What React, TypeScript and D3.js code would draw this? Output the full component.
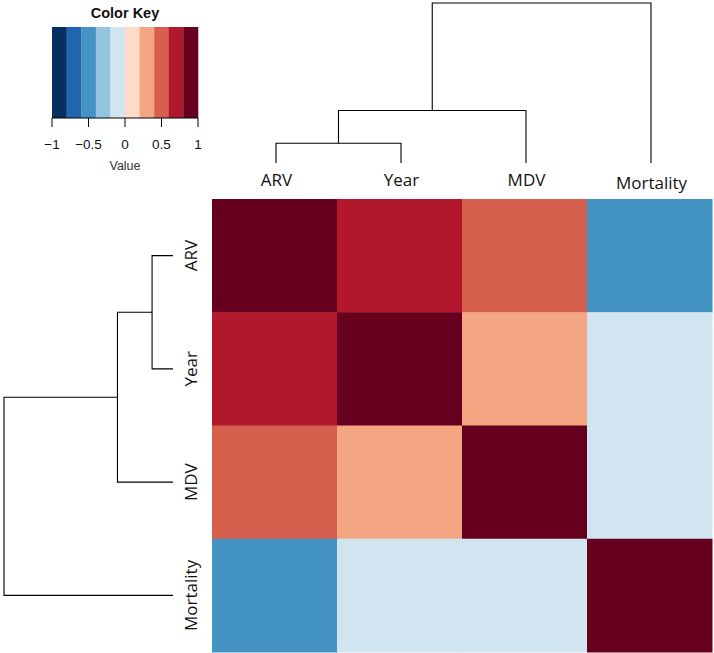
import React from "react";
import * as d3 from "d3";

const variables = ["ARV", "Year", "MDV", "Mortality"];
// correlation matrix (rows and columns in variable order)
const rowARV = [1.0, 0.72, 0.52, -0.48];
const rowYear = [0.72, 1.0, 0.33, -0.12];
const rowMDV = [0.52, 0.33, 1.0, -0.08];
const rowMortality = [-0.48, -0.12, -0.08, 1.0];
const matrix = [rowARV, rowYear, rowMDV, rowMortality];

// hierarchical clustering merges: [left, right, height]; leaves are 0..3, merged nodes are 4..
const merges: [number, number, number][] = [
  [0, 1, 0.52],
  [4, 2, 1.38],
  [5, 3, 4.2],
];

const keyTicks = [-1, -0.5, 0, 0.5, 1];
const keyColors = [
  "#053061", "#2166ac", "#4393c3", "#92c5de", "#d1e5f0",
  "#fddbc7", "#f4a582", "#d6604d", "#b2182b", "#67001f",
];

const W = 714;
const H = 653;
const hm = { x0: 212, x1: 712, y0: 199, y1: 652 };

function dendroSegments(
  leafPos: (i: number) => number,
  hScale: d3.ScaleLinear<number, number>
) {
  const pos: number[] = variables.map((_, i) => leafPos(i));
  const ht: number[] = variables.map(() => 0);
  const segs: { p: number; h: number; p2: number; h2: number; hm: number }[] = [];
  merges.forEach(([a, b, h]) => {
    segs.push({ p: pos[a], h: ht[a], p2: pos[b], h2: ht[b], hm: h });
    pos.push((pos[a] + pos[b]) / 2);
    ht.push(h);
  });
  return segs.map((s) => ({
    p1: s.p,
    a1: hScale(s.h),
    p2: s.p2,
    a2: hScale(s.h2),
    am: hScale(s.hm),
  }));
}

export default function App() {
  const x = d3.scaleBand<string>().domain(variables).range([hm.x0, hm.x1]);
  const y = d3.scaleBand<string>().domain(variables).range([hm.y0, hm.y1]);
  const color = d3
    .scaleQuantize<string>()
    .domain([-1, 1])
    .range(keyColors);

  const maxH = d3.max(merges, (m) => m[2]) as number;
  const topH = d3.scaleLinear().domain([0, maxH]).range([163, 3]);
  const leftH = d3.scaleLinear().domain([0, maxH]).range([173, 4]);

  const topSegs = dendroSegments(
    (i) => (x(variables[i]) as number) + x.bandwidth() / 2 + 1.5,
    topH
  );
  const leftSegs = dendroSegments(
    (i) => (y(variables[i]) as number) + y.bandwidth() / 2,
    leftH
  );

  const kx = d3.scaleLinear().domain([-1, 1]).range([52, 198]);
  const keyTop = 27;
  const keyBottom = 118;
  const binW = (kx(1) - kx(-1)) / keyColors.length;

  const font = "'Open Sans', 'Noto Sans', sans-serif";
  const keyFont = "'Liberation Sans', Arial, sans-serif";

  return (
    <svg
      width={W}
      height={H}
      style={{ position: "absolute", left: 0, top: 0, background: "#fff" }}
    >
      {/* heatmap cells */}
      {matrix.map((row, ri) =>
        row.map((v, ci) => (
          <rect
            key={`${ri}-${ci}`}
            x={x(variables[ci])}
            y={y(variables[ri])}
            width={x.bandwidth() + 0.5}
            height={y.bandwidth() + 0.5}
            fill={color(v)}
          />
        ))
      )}

      {/* top dendrogram */}
      <g fill="none" stroke="#000" strokeWidth={1.1}>
        {topSegs.map((s, i) => (
          <path
            key={i}
            d={`M${s.p1},${s.a1}V${s.am}H${s.p2}V${s.a2}`}
          />
        ))}
      </g>
      {/* left dendrogram */}
      <g fill="none" stroke="#000" strokeWidth={1.1}>
        {leftSegs.map((s, i) => (
          <path
            key={i}
            d={`M${s.a1},${s.p1}H${s.am}V${s.p2}H${s.a2}`}
          />
        ))}
      </g>

      {/* column labels */}
      {variables.map((v) => (
        <text
          key={v}
          x={(x(v) as number) + x.bandwidth() / 2 + 2}
          y={/[gjpqy]/.test(v) ? 189 : 186}
          textAnchor="middle"
          fontFamily={font}
          fontSize={17}
          fill="#111"
        >
          {v}
        </text>
      ))}

      {/* row labels */}
      {variables.map((v) => {
        const cy = (y(v) as number) + y.bandwidth() / 2;
        return (
          <text
            key={v}
            transform={`translate(197,${cy}) rotate(-90)`}
            textAnchor="middle"
            fontFamily={font}
            fontSize={17}
            fill="#111"
          >
            {v}
          </text>
        );
      })}

      {/* color key */}
      <text
        x={125}
        y={18}
        textAnchor="middle"
        fontFamily={keyFont}
        fontWeight="bold"
        fontSize={14.5}
        fill="#111"
      >
        Color Key
      </text>
      {keyColors.map((c, i) => (
        <rect
          key={c}
          x={kx(-1) + i * binW}
          y={keyTop}
          width={binW + 0.3}
          height={keyBottom - keyTop}
          fill={c}
        />
      ))}
      <g stroke="#000" strokeWidth={1}>
        <line x1={kx(-1)} x2={kx(1)} y1={keyBottom} y2={keyBottom} />
        {keyTicks.map((t) => (
          <line key={t} x1={kx(t)} x2={kx(t)} y1={keyBottom} y2={keyBottom + 9} />
        ))}
      </g>
      {keyTicks.map((t) => (
        <text
          key={t}
          x={kx(t)}
          y={149}
          textAnchor="middle"
          fontFamily={keyFont}
          fontSize={13.5}
          fill="#111"
        >
          {d3.format("")(t)}
        </text>
      ))}
      <text
        x={125}
        y={170}
        textAnchor="middle"
        fontFamily={keyFont}
        fontSize={12.5}
        fill="#333"
      >
        Value
      </text>
    </svg>
  );
}
